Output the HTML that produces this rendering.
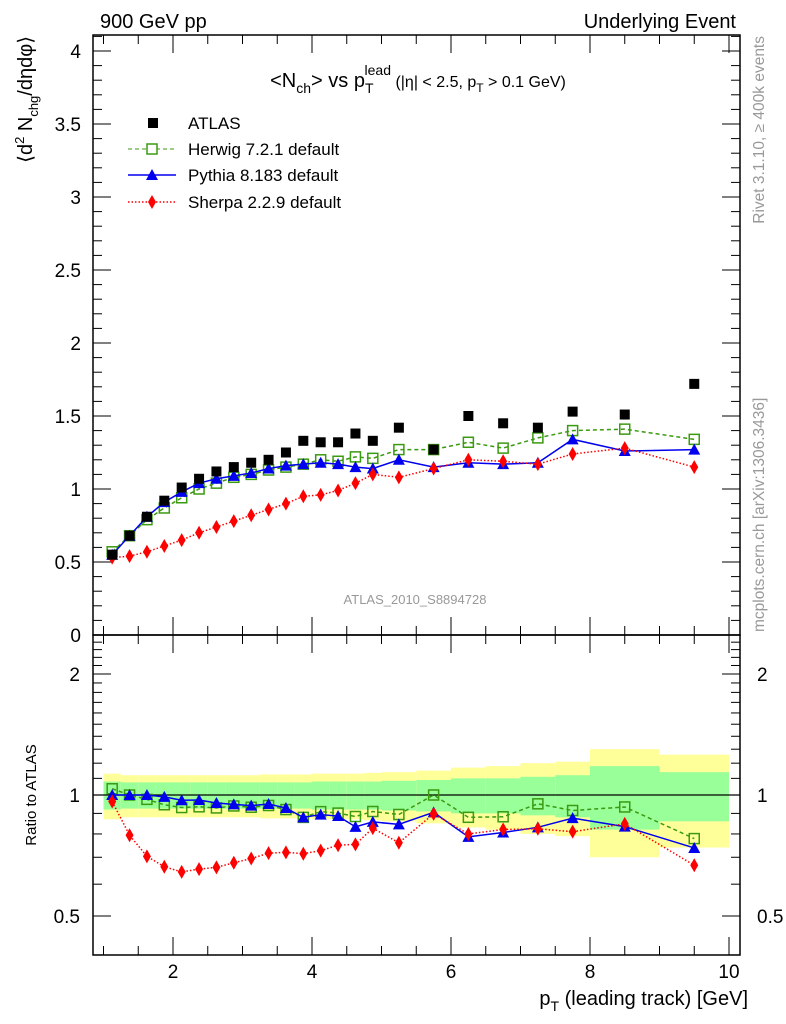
<!DOCTYPE html>
<html><head><meta charset="utf-8"><style>
body{margin:0;background:#fff;}
svg{display:block;font-family:"Liberation Sans",sans-serif;}
</style></head><body>
<svg id="c" width="786" height="1024" xmlns="http://www.w3.org/2000/svg">
<g id="bands"></g><g id="grid"></g><g id="marks"></g>
<text x="100" y="28" font-size="20">900 GeV pp</text>
<text x="736" y="28" font-size="20" text-anchor="end">Underlying Event</text>
<text x="418" y="87" font-size="20" text-anchor="middle">&lt;N<tspan font-size="14" dy="6">ch</tspan><tspan dy="-6">&gt; vs p</tspan><tspan font-size="14" dy="6">T</tspan><tspan font-size="14" dy="-18" dx="-9">lead</tspan><tspan font-size="16" dy="12"> (|η| &lt; 2.5, p</tspan><tspan font-size="12" dy="5">T</tspan><tspan font-size="16" dy="-5"> &gt; 0.1 GeV)</tspan></text>
<g font-size="17">
<rect x="148" y="118" width="10" height="10" fill="#000"/><text x="188" y="129">ATLAS</text>
<line x1="128" y1="149" x2="176" y2="149" stroke="#3a9a10" stroke-dasharray="4,3"/><rect x="147" y="144" width="10" height="10" fill="#fff" stroke="#3a9a10" stroke-width="1.5"/><text x="188" y="155">Herwig 7.2.1 default</text>
<line x1="128" y1="175" x2="176" y2="175" stroke="#0000ee" stroke-width="1.5"/><polygon points="152,169 158,180 146,180" fill="#0000ee"/><text x="188" y="181">Pythia 8.183 default</text>
<line x1="128" y1="202" x2="176" y2="202" stroke="#f00" stroke-dasharray="1.5,2" stroke-width="1.5"/><polygon points="152,195 156,202 152,209 148,202" fill="#f00"/><text x="188" y="208">Sherpa 2.2.9 default</text>
</g>
<text x="415" y="604" font-size="13" fill="#999" text-anchor="middle">ATLAS_2010_S8894728</text>
<text transform="translate(32,36) rotate(-90)" font-size="20" text-anchor="end">⟨d<tspan font-size="13" dy="-8">2</tspan><tspan dy="8"> N</tspan><tspan font-size="13" dy="6">chg</tspan><tspan dy="-6">/dηdφ⟩</tspan></text>
<text transform="translate(36,795) rotate(-90)" font-size="15" text-anchor="middle">Ratio to ATLAS</text>
<text x="748" y="1005" font-size="20" text-anchor="end">p<tspan font-size="14" dy="6">T</tspan><tspan dy="-6"> (leading track) [GeV]</tspan></text>
<text transform="translate(764,36) rotate(-90)" font-size="15.5" fill="#999" text-anchor="end">Rivet 3.1.10, ≥ 400k events</text>
<text transform="translate(764,632) rotate(-90)" font-size="15.5" fill="#999" text-anchor="start">mcplots.cern.ch [arXiv:1306.3436]</text>
</svg>
<script>
const xc=[1.125,1.375,1.625,1.875,2.125,2.375,2.625,2.875,3.125,3.375,3.625,3.875,4.125,4.375,4.625,4.875,5.25,5.75,6.25,6.75,7.25,7.75,8.5,9.5];
const binLo=[1,1.25,1.5,1.75,2,2.25,2.5,2.75,3,3.25,3.5,3.75,4,4.25,4.5,4.75,5,5.5,6,6.5,7,7.5,8,9];
const binHi=[1.25,1.5,1.75,2,2.25,2.5,2.75,3,3.25,3.5,3.75,4,4.25,4.5,4.75,5,5.5,6,6.5,7,7.5,8,9,10];
const atlas=[0.55,0.68,0.81,0.92,1.01,1.07,1.12,1.15,1.18,1.20,1.25,1.33,1.32,1.32,1.38,1.33,1.42,1.27,1.50,1.45,1.42,1.53,1.51,1.72];
const herwig=[0.57,0.68,0.79,0.87,0.94,1.00,1.04,1.08,1.10,1.13,1.15,1.17,1.20,1.19,1.22,1.21,1.27,1.27,1.32,1.28,1.35,1.40,1.41,1.34];
const pythia=[0.55,0.68,0.81,0.91,0.98,1.04,1.07,1.09,1.11,1.14,1.16,1.17,1.18,1.17,1.15,1.14,1.20,1.15,1.18,1.17,1.18,1.34,1.26,1.27];
const sherpa=[0.53,0.54,0.57,0.61,0.65,0.70,0.74,0.78,0.82,0.86,0.90,0.95,0.96,0.99,1.04,1.10,1.08,1.14,1.20,1.19,1.17,1.24,1.28,1.15];
const statErr=[0.08,0.075,0.075,0.075,0.075,0.075,0.075,0.075,0.075,0.075,0.075,0.075,0.08,0.08,0.08,0.08,0.085,0.09,0.1,0.1,0.11,0.12,0.18,0.14];
const totErr=[0.13,0.12,0.12,0.12,0.12,0.12,0.12,0.12,0.12,0.125,0.125,0.125,0.13,0.13,0.13,0.135,0.14,0.15,0.17,0.18,0.2,0.21,0.3,0.26];
const mainTicks=["0","0.5","1","1.5","2","2.5","3","3.5","4"];
const ratioTicks=[0.5,1,2];
const xTicks=[2,4,6,8,10];

const X=v=>173+(v-2)*69.5, Y=v=>635-146*v, R=r=>795-121*Math.log2(r);
const L=93,Rt=740,T=35,M=635,B=955;
const NS="http://www.w3.org/2000/svg";
function mk(tag,p,a){const e=document.createElementNS(NS,tag);for(const k in a)e.setAttribute(k,a[k]);p.appendChild(e);return e;}
const g=document.getElementById('grid'),bd=document.getElementById('bands'),mg=document.getElementById('marks');
for(let i=0;i<xc.length;i++){
 const y=mk('rect',bd,{x:X(binLo[i]),width:X(binHi[i])-X(binLo[i]),y:R(1+totErr[i]),height:R(1-totErr[i])-R(1+totErr[i]),fill:'#ffff99'});
 
 
 const s=mk('rect',bd,{x:X(binLo[i]),width:X(binHi[i])-X(binLo[i]),y:R(1+statErr[i]),height:R(1-statErr[i])-R(1+statErr[i]),fill:'#99ff99'});
 
 
}
const f1=mk('rect',g,{x:L,y:T,width:Rt-L,height:M-T,fill:'none',stroke:'#000','stroke-width':1.5});


const f2=mk('rect',g,{x:L,y:M,width:Rt-L,height:B-M,fill:'none',stroke:'#000','stroke-width':1.5});


mk('line',g,{x1:L,x2:Rt,y1:R(1),y2:R(1),stroke:'#000','stroke-width':1.2});
for(let v=0;v<=4.1001;v+=0.1){const maj=Math.abs(v*2-Math.round(v*2))<1e-6;const len=maj?18:9;const y=Y(v);
 mk('line',g,{x1:L,x2:L+len,y1:y,y2:y,stroke:'#000'});mk('line',g,{x1:Rt,x2:Rt-len,y1:y,y2:y,stroke:'#000'});}
mainTicks.forEach(t=>{const e=mk('text',g,{x:81,y:Y(+t)+7,'font-size':19,'text-anchor':'end'});e.textContent=t;
 
 });
for(let v=0.4;v<=2.5;v+=0.1){const y=R(v);if(y<M||y>B)continue;const maj=ratioTicks.some(t=>Math.abs(t-v)<1e-6);const len=maj?18:9;
 mk('line',g,{x1:L,x2:L+len,y1:y,y2:y,stroke:'#000'});mk('line',g,{x1:Rt,x2:Rt-len,y1:y,y2:y,stroke:'#000'});}
ratioTicks.forEach(t=>{[80,757].forEach(x=>{const e=mk('text',g,{x:x,y:R(t)+7,'font-size':19,'text-anchor':x<100?'end':'start'});e.textContent=String(t);
 
 });});
for(let v=1;v<=10.001;v+=0.5){const maj=xTicks.includes(v);const len=maj?18:9;const x=X(v);
 [[T,1],[M,-1],[M,1],[B,-1]].forEach(([y0,d])=>mk('line',g,{x1:x,x2:x,y1:y0,y2:y0+d*len,stroke:'#000'}));}
xTicks.forEach(t=>{const e=mk('text',g,{x:X(t),y:978,'font-size':19,'text-anchor':'middle'});e.textContent=String(t);
 
 });
function series(vals,col,dash,shape,name,ratio){
 const fy=ratio?(i=>R(vals[i]/atlas[i])):(i=>Y(vals[i]));
 if(col!=='#000'){const pl=mk('polyline',mg,{points:xc.map((x,i)=>X(x)+','+fy(i)).join(' '),fill:'none',stroke:col,'stroke-width':1.5,'stroke-dasharray':dash});
  
  }
 xc.forEach((x,i)=>{const cx=X(x),cy=fy(i);let e;
  if(shape==='sq')e=mk('rect',mg,{x:cx-5,y:cy-5,width:10,height:10,fill:'#000'});
  else if(shape==='osq')e=mk('rect',mg,{x:cx-5,y:cy-5,width:10,height:10,fill:'none',stroke:col,'stroke-width':1.5});
  else if(shape==='tri')e=mk('polygon',mg,{points:`${cx},${cy-6} ${cx+6},${cy+5} ${cx-6},${cy+5}`,fill:col});
  else e=mk('polygon',mg,{points:`${cx},${cy-7} ${cx+4},${cy} ${cx},${cy+7} ${cx-4},${cy}`,fill:col});
  
  });
}
series(herwig,'#3a9a10','4,3','osq','herwig',false);
series(pythia,'#0000ee','','tri','pythia',false);
series(sherpa,'#f00','1.5,2','dia','sherpa',false);
series(atlas,'#000','','sq','atlas',false);
series(herwig,'#3a9a10','4,3','osq','herwig-ratio',true);
series(pythia,'#0000ee','','tri','pythia-ratio',true);
series(sherpa,'#f00','1.5,2','dia','sherpa-ratio',true);
</script>
</body></html>
